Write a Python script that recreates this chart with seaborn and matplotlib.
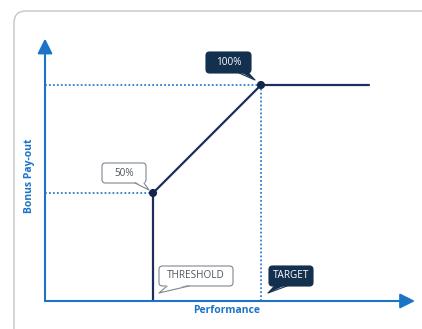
import numpy as np
import pandas as pd
import seaborn as sns
import matplotlib.pyplot as plt
import matplotlib.transforms as mtransforms
from matplotlib.patches import FancyBboxPatch, Polygon
from matplotlib.lines import Line2D

# performance: 0 = origin, 1 = threshold, 2 = target ; pay-out in %
curve_perf = [1, 1, 2, 3]
curve_payout = [0, 50, 100, 100]
key_perf = [1, 2]
key_payout = [50, 100]
payout_labels = ['50%', '100%']
perf_labels = ['THRESHOLD', 'TARGET']

navy = '#1d2e5c'
dark_box = '#13304f'
blue = '#1b74c8'
dot_blue = '#2c7fd0'

sns.set_style('white')
plt.rcParams['font.family'] = ['Open Sans', 'DejaVu Sans']

fig = plt.figure(figsize=(4.22, 3.29), dpi=100)
ax = fig.add_axes([0, 0, 1, 1])
# pixel mapping: origin at (45, 301), 108 px per performance step, 2.16 px per %
X0, XS, Y0, YS = 45, 108, 301, 2.16
xlim = ((0 - X0) / XS, (422 - X0) / XS)
ylim = ((Y0 - 329) / YS, Y0 / YS)

# card background
card = FancyBboxPatch((14, -40), 460, 358, boxstyle='round,pad=0,rounding_size=12',
                      transform=mtransforms.IdentityTransform(), fc='white',
                      ec='#c4c4c4', lw=1.0, clip_on=False, zorder=0)
ax.add_patch(card)

# guide lines
ax.plot([0, key_perf[1]], [key_payout[1]] * 2, ls=(0, (1, 1.2)), color=dot_blue, lw=1.3, zorder=1)
ax.plot([0, key_perf[0]], [key_payout[0]] * 2, ls=(0, (1, 1.2)), color=dot_blue, lw=1.3, zorder=1)
ax.plot([key_perf[1]] * 2, [0, key_payout[1]], ls=(0, (1, 1.2)), color=dot_blue, lw=1.3, zorder=1)

# pay-out curve
df = pd.DataFrame({'perf': curve_perf, 'payout': curve_payout})
sns.lineplot(data=df, x='perf', y='payout', sort=False, estimator=None, errorbar=None,
             color=navy, lw=1.6, ax=ax, zorder=3)
sns.scatterplot(x=key_perf, y=key_payout, color='#14254a', s=34, edgecolor='none', ax=ax, zorder=4)
ax.set_xlim(*xlim)
ax.set_ylim(*ylim)
ax.axis('off')

# axes arrows
ax.annotate('', xy=((415 - X0) / XS, 0), xytext=(0, 0),
            arrowprops=dict(arrowstyle='-|>,head_length=0.9,head_width=0.45', color=blue, lw=1.5,
                            shrinkA=0, shrinkB=0), zorder=5)
ax.annotate('', xy=(0, 121.5), xytext=(0, 0),
            arrowprops=dict(arrowstyle='-|>,head_length=0.9,head_width=0.45', color=blue, lw=1.5,
                            shrinkA=0, shrinkB=0), zorder=5)

ax.text((30 - X0) / XS, 58, 'Bonus Pay-out', rotation=90, ha='center', va='center',
        color=blue, fontsize=7.5, fontweight='bold')
ax.text((227 - X0) / XS, -4.6, 'Performance', ha='center', va='center',
        color=blue, fontsize=7.5, fontweight='bold')


def bubble(x, y, box, tail, text, dark):
    # box / tail given as pixel offsets from the anchor point, y pointing down
    tr = mtransforms.Affine2D().scale(1, -1) + mtransforms.ScaledTranslation(x, y, ax.transData)
    fc = dark_box if dark else 'white'
    ec = dark_box if dark else '#7d8790'
    tc = 'white' if dark else '#4f565c'
    x0, y0, x1, y1 = box
    ax.add_patch(FancyBboxPatch((x0, y0), x1 - x0, y1 - y0,
                                boxstyle='round,pad=0,rounding_size=3.5',
                                transform=tr, fc=fc, ec=ec, lw=0.8, zorder=6))
    (bx0, bx1), (tx, ty), by = tail
    ax.add_patch(Polygon([(bx0, by - 1.5), (tx, ty), (bx1, by - 1.5)], closed=True,
                         transform=tr, fc=fc, ec='none', zorder=7))
    ax.add_line(Line2D([bx0, tx, bx1], [by, ty, by], transform=tr, color=ec, lw=0.8, zorder=7))
    ax.text((x0 + x1) / 2, (y0 + y1) / 2, text, transform=tr, ha='center', va='center',
            color=tc, fontsize=7.2, zorder=8)


bubble(key_perf[0], key_payout[0], (-51, -30, -7, -10), ((-18, -9), (-4, -3), -10),
       payout_labels[0], False)
bubble(key_perf[1], key_payout[1], (-55, -33, -10, -12), ((-22, -13), (-6, -5), -12),
       payout_labels[1], True)
bubble(key_perf[0], 0, (6, -35, 80, -15), ((14, 36), (6, -8), -15), perf_labels[0], False)
bubble(key_perf[1], 0, (8, -35, 52, -15), ((14, 26), (7, -8), -15), perf_labels[1], True)

plt.savefig('out.png', dpi=100)
